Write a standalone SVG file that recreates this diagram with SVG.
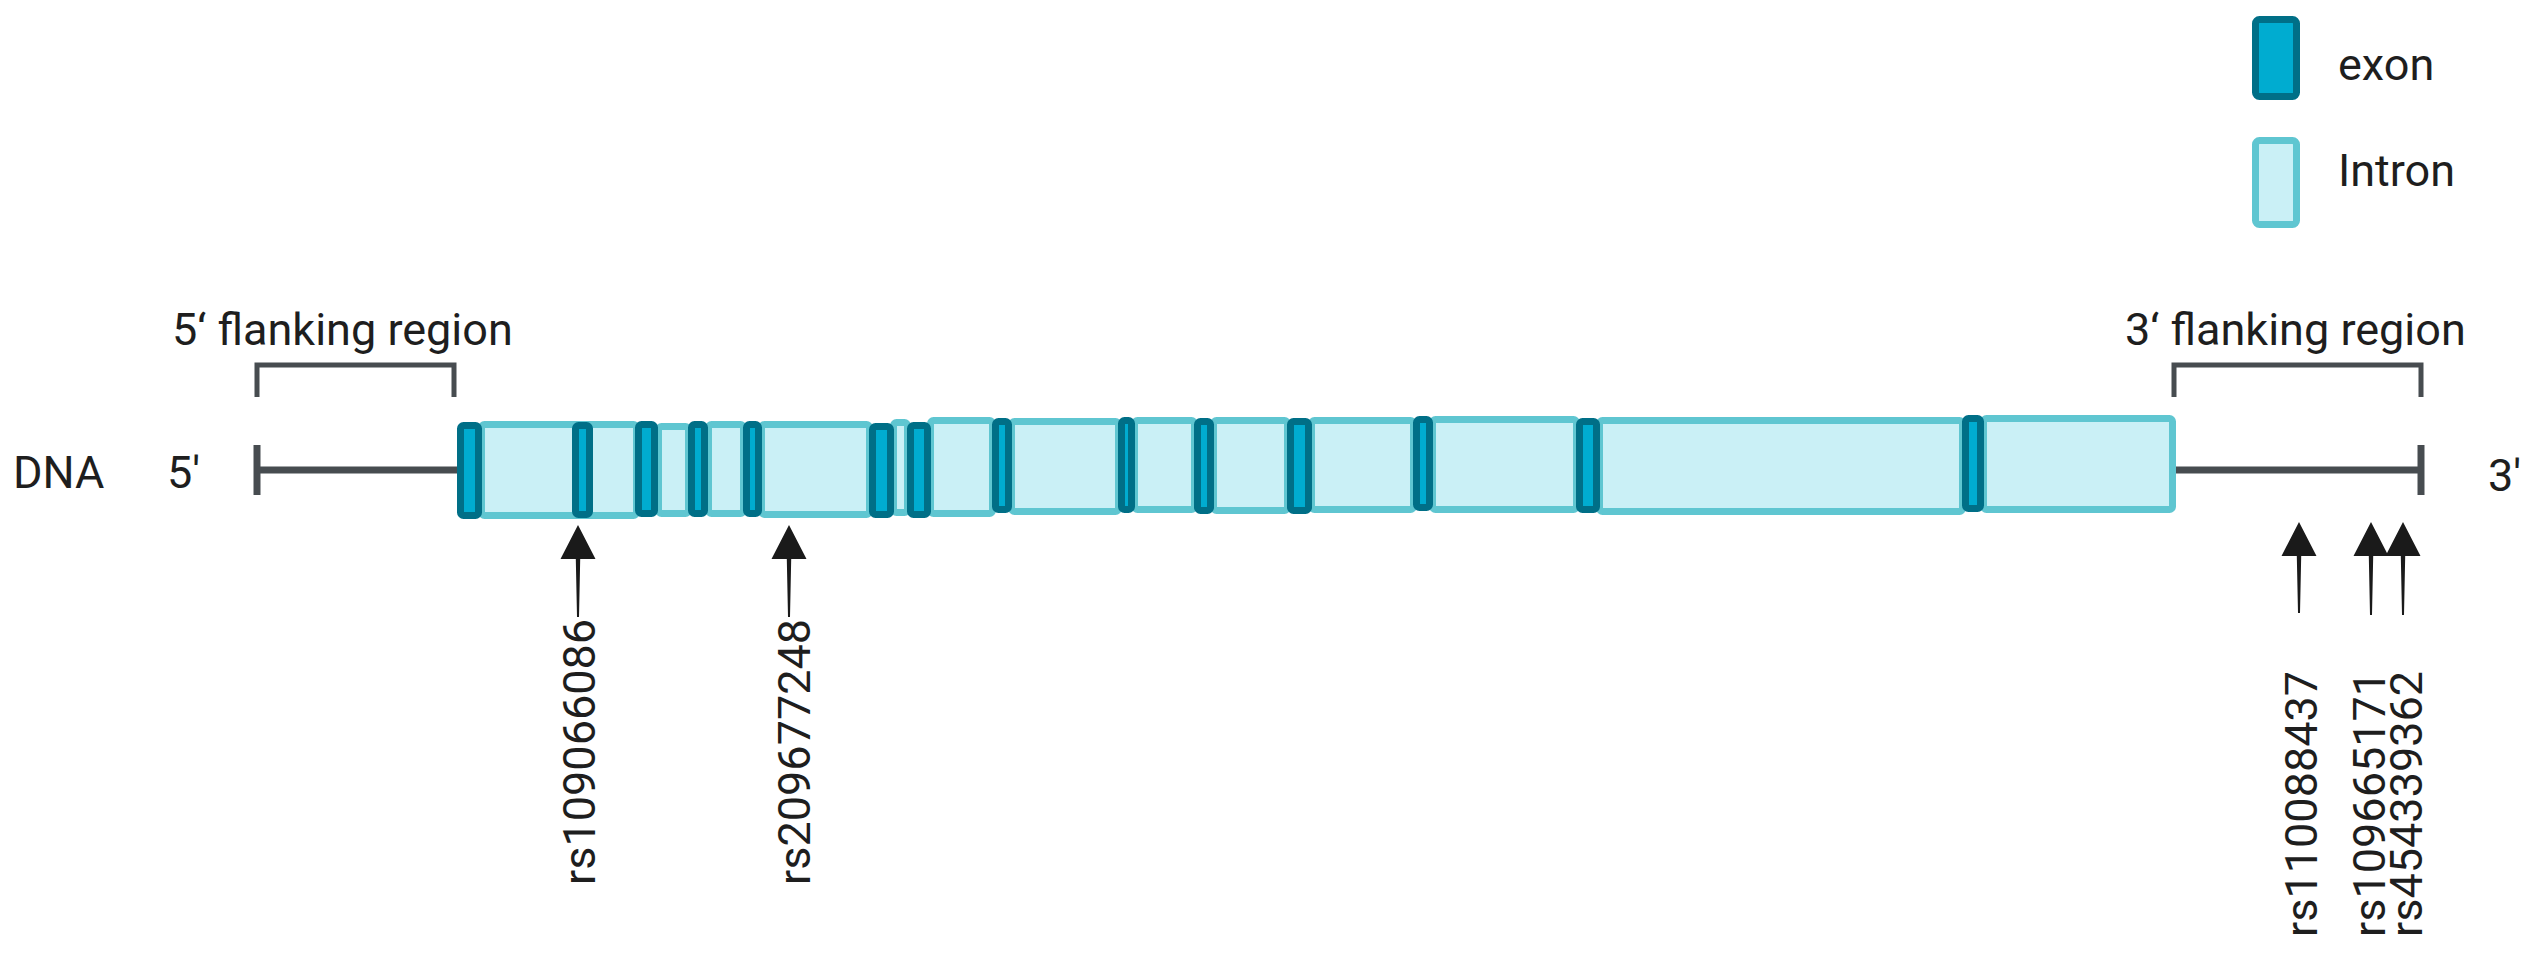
<svg xmlns="http://www.w3.org/2000/svg" width="2536" height="953" viewBox="0 0 2536 953">
<style>
text{font-family:Roboto,"Liberation Sans",sans-serif;font-size:45px;fill:#1e1e1e}
.exon{fill:#00acd0;stroke:#006f87;stroke-width:7}
.intron{fill:#caf0f6;stroke:#5fc6d1;stroke-width:7}
.dna{stroke:#474c50;stroke-width:7;fill:none}
.br{stroke:#474c50;stroke-width:5;fill:none}
.arr{fill:#1a1a1a}
</style>
<rect width="2536" height="953" fill="#fff"/>
<g id="legend">
<rect class="exon" x="2255.5" y="19.5" width="41" height="77" rx="4"/>
<text x="2338" y="80">exon</text>
<rect class="intron" x="2255.5" y="140.5" width="41" height="84" rx="4"/>
<text x="2338" y="186">Intron</text>
</g>
<g id="labels">
<text x="13" y="488">DNA</text>
<text x="167" y="488">5'</text>
<text x="2488" y="491">3'</text>
<text x="172" y="345">5‘ flanking region</text>
<text x="2125" y="345">3‘ flanking region</text>
</g>
<g id="flank-5">
<path class="br" d="M257,397 V365 H454 V397"/>
<line class="dna" x1="257" y1="445" x2="257" y2="495"/>
<line class="dna" x1="257" y1="470" x2="462" y2="470"/>
</g>
<g id="flank-3">
<path class="br" d="M2174,397 V365 H2421 V397"/>
<line class="dna" x1="2421" y1="445" x2="2421" y2="495"/>
<line class="dna" x1="2172" y1="470" x2="2421" y2="470"/>
</g>
<g id="introns">
<rect class="intron" x="481.5" y="424.5" width="155" height="91" rx="3"/>
<rect class="intron" x="658.5" y="426.5" width="30" height="87" rx="3"/>
<rect class="intron" x="708.5" y="424.5" width="35" height="89" rx="3"/>
<rect class="intron" x="761.5" y="424.5" width="108" height="90" rx="3"/>
<rect class="intron" x="893.5" y="422.5" width="14" height="90" rx="3"/>
<rect class="intron" x="930.5" y="420.5" width="62" height="93" rx="3"/>
<rect class="intron" x="1011.5" y="421.5" width="107" height="90" rx="3"/>
<rect class="intron" x="1134.5" y="420.5" width="60" height="89" rx="3"/>
<rect class="intron" x="1213.5" y="420.5" width="74" height="90" rx="3"/>
<rect class="intron" x="1311.5" y="420.5" width="102" height="89" rx="3"/>
<rect class="intron" x="1432.5" y="419.5" width="144" height="90" rx="3"/>
<rect class="intron" x="1599.5" y="420.5" width="363" height="91" rx="3"/>
<rect class="intron" x="1983.5" y="418.5" width="189" height="91" rx="3"/>
</g>
<g id="exons">
<rect class="exon" x="460.5" y="425.5" width="18" height="90" rx="3"/>
<rect class="exon" x="575.5" y="425.5" width="14" height="89" rx="3"/>
<rect class="exon" x="638.5" y="424.5" width="16" height="89" rx="3"/>
<rect class="exon" x="691.5" y="424.5" width="13" height="89" rx="3"/>
<rect class="exon" x="746.5" y="424.5" width="12" height="89" rx="3"/>
<rect class="exon" x="872.5" y="426.5" width="18" height="88" rx="3"/>
<rect class="exon" x="910.5" y="425.5" width="17" height="89" rx="3"/>
<rect class="exon" x="995.5" y="421.5" width="13" height="88" rx="3"/>
<rect class="exon" x="1121.5" y="420.5" width="10" height="89" rx="3"/>
<rect class="exon" x="1197.5" y="421.5" width="13" height="89" rx="3"/>
<rect class="exon" x="1290.5" y="421.5" width="18" height="89" rx="3"/>
<rect class="exon" x="1416.5" y="419.5" width="13" height="88" rx="3"/>
<rect class="exon" x="1579.5" y="421.5" width="17" height="88" rx="3"/>
<rect class="exon" x="1965.5" y="418.5" width="15" height="90" rx="3"/>
</g>
<g id="connectors">
<path class="arr" d="M578,525 L595.5,559 L580.2,559 L579,617 L577,617 L575.8,559 L560.5,559 z"/>
<path class="arr" d="M789,525 L806.5,559 L791.2,559 L790,617 L788,617 L786.8,559 L771.5,559 z"/>
<path class="arr" d="M2299,522 L2316.5,556 L2301.2,556 L2300,613 L2298,613 L2296.8,556 L2281.5,556 z"/>
<path class="arr" d="M2371,522 L2388.5,556 L2373.2,556 L2372,615 L2370,615 L2368.8,556 L2353.5,556 z"/>
<path class="arr" d="M2403,522 L2420.5,556 L2405.2,556 L2404,615 L2402,615 L2400.8,556 L2385.5,556 z"/>
</g>
<g id="snp-labels">
<text transform="translate(595,885) rotate(-90)">rs109066086</text>
<text transform="translate(810,885) rotate(-90)">rs209677248</text>
<text transform="translate(2317,937) rotate(-90)">rs110088437</text>
<text transform="translate(2385,937) rotate(-90)">rs109665171</text>
<text transform="translate(2422,937) rotate(-90)">rs454339362</text>
</g>
</svg>
